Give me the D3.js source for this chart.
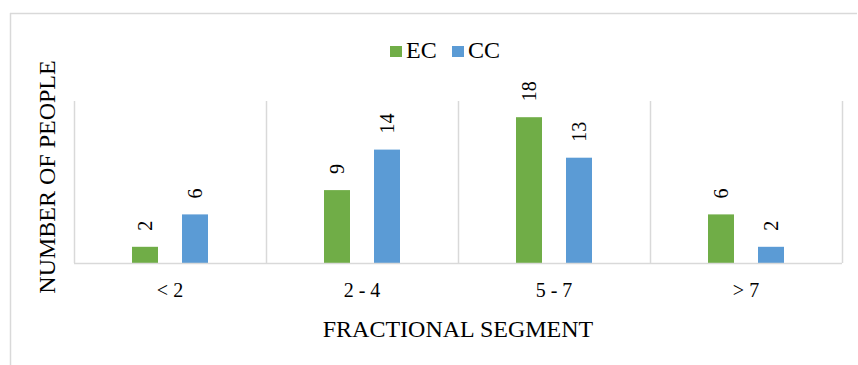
<!DOCTYPE html>
<html>
<head>
<meta charset="utf-8">
<script src="https://cdn.jsdelivr.net/npm/d3@7"></script>
<style>
  html, body { margin: 0; padding: 0; background: #fff; }
  svg { display: block; }
  text { font-family: "Liberation Serif", "Times New Roman", serif; fill: #000; }
</style>
</head>
<body>
<svg id="chart" width="858" height="365"></svg>
<script>
const categories = ["< 2", "2 - 4", "5 - 7", "> 7"];
const seriesNames = ["EC", "CC"];
const ecValues = [2, 9, 18, 6];
const ccValues = [6, 14, 13, 2];
const colors = ["#70ad47", "#5b9bd5"];
const yTitle = "NUMBER OF PEOPLE";
const xTitle = "FRACTIONAL SEGMENT";

const svg = d3.select("#chart");
const plot = { left: 74, right: 842, top: 101, bottom: 263 };

// outer frame (top and left edges visible)
svg.append("line").attr("x1", 10).attr("x2", 857).attr("y1", 13.5).attr("y2", 13.5)
  .attr("stroke", "#d9d9d9").attr("stroke-width", 1.5);
svg.append("line").attr("x1", 10.5).attr("x2", 10.5).attr("y1", 13).attr("y2", 365)
  .attr("stroke", "#d9d9d9").attr("stroke-width", 1.5);

const x0 = d3.scaleBand().domain(categories).range([plot.left, plot.right]).padding(0);
const y = d3.scaleLinear().domain([0, 20]).range([plot.bottom, plot.top]);
const groupW = 76;
const x1 = d3.scaleBand().domain(seriesNames).range([0, groupW]).paddingInner(0.48).paddingOuter(0);

// vertical gridlines at category boundaries
const bounds = categories.map(c => x0(c)).concat([x0(categories[categories.length - 1]) + x0.bandwidth()]);
svg.append("g").selectAll("line").data(bounds).join("line")
  .attr("x1", d => Math.round(d) + 0.5).attr("x2", d => Math.round(d) + 0.5)
  .attr("y1", plot.top).attr("y2", plot.bottom)
  .attr("stroke", "#d9d9d9").attr("stroke-width", 1.5);

const rows = categories.map((c, i) => ({ cat: c, vals: [ecValues[i], ccValues[i]] }));

const groups = svg.append("g").selectAll("g").data(rows).join("g")
  .attr("transform", d => `translate(${x0(d.cat) + x0.bandwidth() / 2 - groupW / 2},0)`);

groups.selectAll("rect").data(d => d.vals.map((v, j) => ({ key: seriesNames[j], v, j })))
  .join("rect")
  .attr("x", d => x1(d.key)).attr("width", x1.bandwidth())
  .attr("y", d => y(d.v)).attr("height", d => y(0) - y(d.v))
  .attr("fill", d => colors[d.j]);

groups.selectAll("text.val").data(d => d.vals.map((v, j) => ({ key: seriesNames[j], v, j })))
  .join("text").attr("class", "val")
  .attr("transform", d => `translate(${x1(d.key) + x1.bandwidth() / 2 + 7},${y(d.v) - 16}) rotate(-90)`)
  .attr("text-anchor", "start")
  .style("font-size", "20px")
  .text(d => d.v);

// baseline axis
svg.append("line").attr("x1", plot.left).attr("x2", plot.right)
  .attr("y1", plot.bottom + 0.5).attr("y2", plot.bottom + 0.5)
  .attr("stroke", "#d9d9d9").attr("stroke-width", 1.5);

// x tick labels
const xAxis = d3.axisBottom(x0).tickSize(0).tickPadding(0);
const xg = svg.append("g").attr("transform", `translate(0,${plot.bottom})`).call(xAxis);
xg.select(".domain").remove();
xg.selectAll("text").attr("dy", null).attr("y", 34)
  .style("font-size", "20px").style("font-family", "Liberation Serif, serif").attr("fill", "#000");

// axis titles
svg.append("text").attr("x", (plot.left + plot.right) / 2).attr("y", 337)
  .attr("text-anchor", "middle").style("font-size", "24px").text(xTitle);
svg.append("text").attr("transform", `translate(55,177) rotate(-90)`)
  .attr("text-anchor", "middle").style("font-size", "24px").text(yTitle);

// legend
const legend = svg.append("g");
const legendX = [390, 452];
seriesNames.forEach((s, i) => {
  legend.append("rect").attr("x", legendX[i]).attr("y", 46).attr("width", 12).attr("height", 11).attr("fill", colors[i]);
  legend.append("text").attr("x", legendX[i] + 16).attr("y", 58).style("font-size", "24px").text(s);
});
</script>
</body>
</html>
